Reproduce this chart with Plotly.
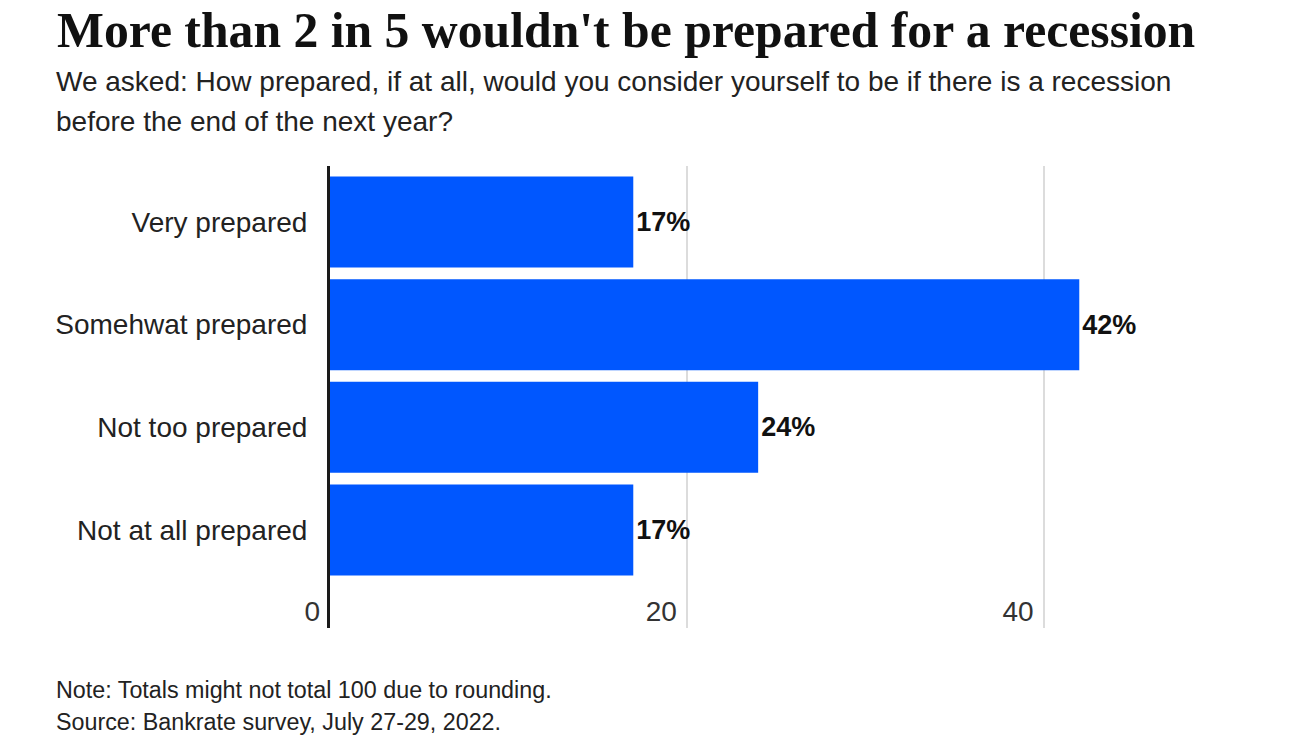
import plotly.graph_objects as go

categories = ["Very prepared", "Somehwat prepared", "Not too prepared", "Not at all prepared"]
shares = [17, 42, 24, 17]
x_ticks = [0, 20, 40]

title_text = "More than 2 in 5 wouldn't be prepared for a recession"
subtitle_lines = [
    "We asked: How prepared, if at all, would you consider yourself to be if there is a recession",
    "before the end of the next year?",
]
note_lines = [
    "Note: Totals might not total 100 due to rounding.",
    "Source: Bankrate survey, July 27-29, 2022.",
]

SANS = "Liberation Sans, Arial, sans-serif"
SERIF = "Liberation Serif, Times New Roman, serif"

# page has an 8px body margin, so the figure is a little smaller than the window
W, H = 1279, 731
L, R, T, B = 322, 65, 158, 111
plot_w = W - L - R
plot_h = H - T - B


def px_x(x):
    return (x - L) / plot_w


def px_y(y):
    return (H - B - y) / plot_h


bars = go.Bar(
    x=shares,
    y=categories,
    orientation="h",
    marker=dict(color="#0057ff", line=dict(width=0)),
    text=[f"<b>{v}%</b>" for v in shares],
    textposition="outside",
    textfont=dict(family=SANS, size=27, color="#111111"),
    cliponaxis=False,
    hoverinfo="skip",
)

fig = go.Figure(data=bars)

fig.update_layout(
    width=W,
    height=H,
    margin=dict(l=L, r=R, t=T, b=B),
    paper_bgcolor="white",
    plot_bgcolor="white",
    bargap=0.114,
    showlegend=False,
    font=dict(family=SANS, color="#222222"),
    title=dict(
        text=f"<b>{title_text}</b>",
        x=49 / W, xref="container", xanchor="left",
        y=1 - 22 / H, yref="container", yanchor="middle",
        font=dict(family=SERIF, size=49.7, color="#111111"),
    ),
)

fig.update_xaxes(
    range=[0, 50],
    tickvals=x_ticks,
    ticktext=[str(v) for v in x_ticks],
    showgrid=True,
    gridcolor="#dcdcdc",
    gridwidth=2,
    zeroline=False,
    showline=False,
    ticks="",
    ticklabelposition="inside left",
    ticklabeloverflow="allow",
    ticklabelshift=-10,
    ticklabelstandoff=-5,
    tickfont=dict(family=SANS, size=28, color="#333333"),
)

fig.update_yaxes(
    categoryorder="array",
    categoryarray=categories,
    range=[3.954, -0.545],
    showgrid=False,
    zeroline=False,
    showline=True,
    linecolor="#1a1a1a",
    linewidth=3,
    ticks="",
    ticklabelstandoff=14,
    tickfont=dict(family=SANS, size=28, color="#222222"),
)

for i, line in enumerate(subtitle_lines):
    fig.add_annotation(
        text=line,
        xref="paper", yref="paper", x=px_x(46), y=px_y(74 + 40 * i),
        xanchor="left", yanchor="middle", showarrow=False,
        font=dict(family=SANS, size=28, color="#222222"),
    )

for i, line in enumerate(note_lines):
    fig.add_annotation(
        text=line,
        xref="paper", yref="paper", x=px_x(46), y=px_y(682 + 32 * i),
        xanchor="left", yanchor="middle", showarrow=False,
        font=dict(family=SANS, size=23.3, color="#222222"),
    )

fig.write_html("out.html")
